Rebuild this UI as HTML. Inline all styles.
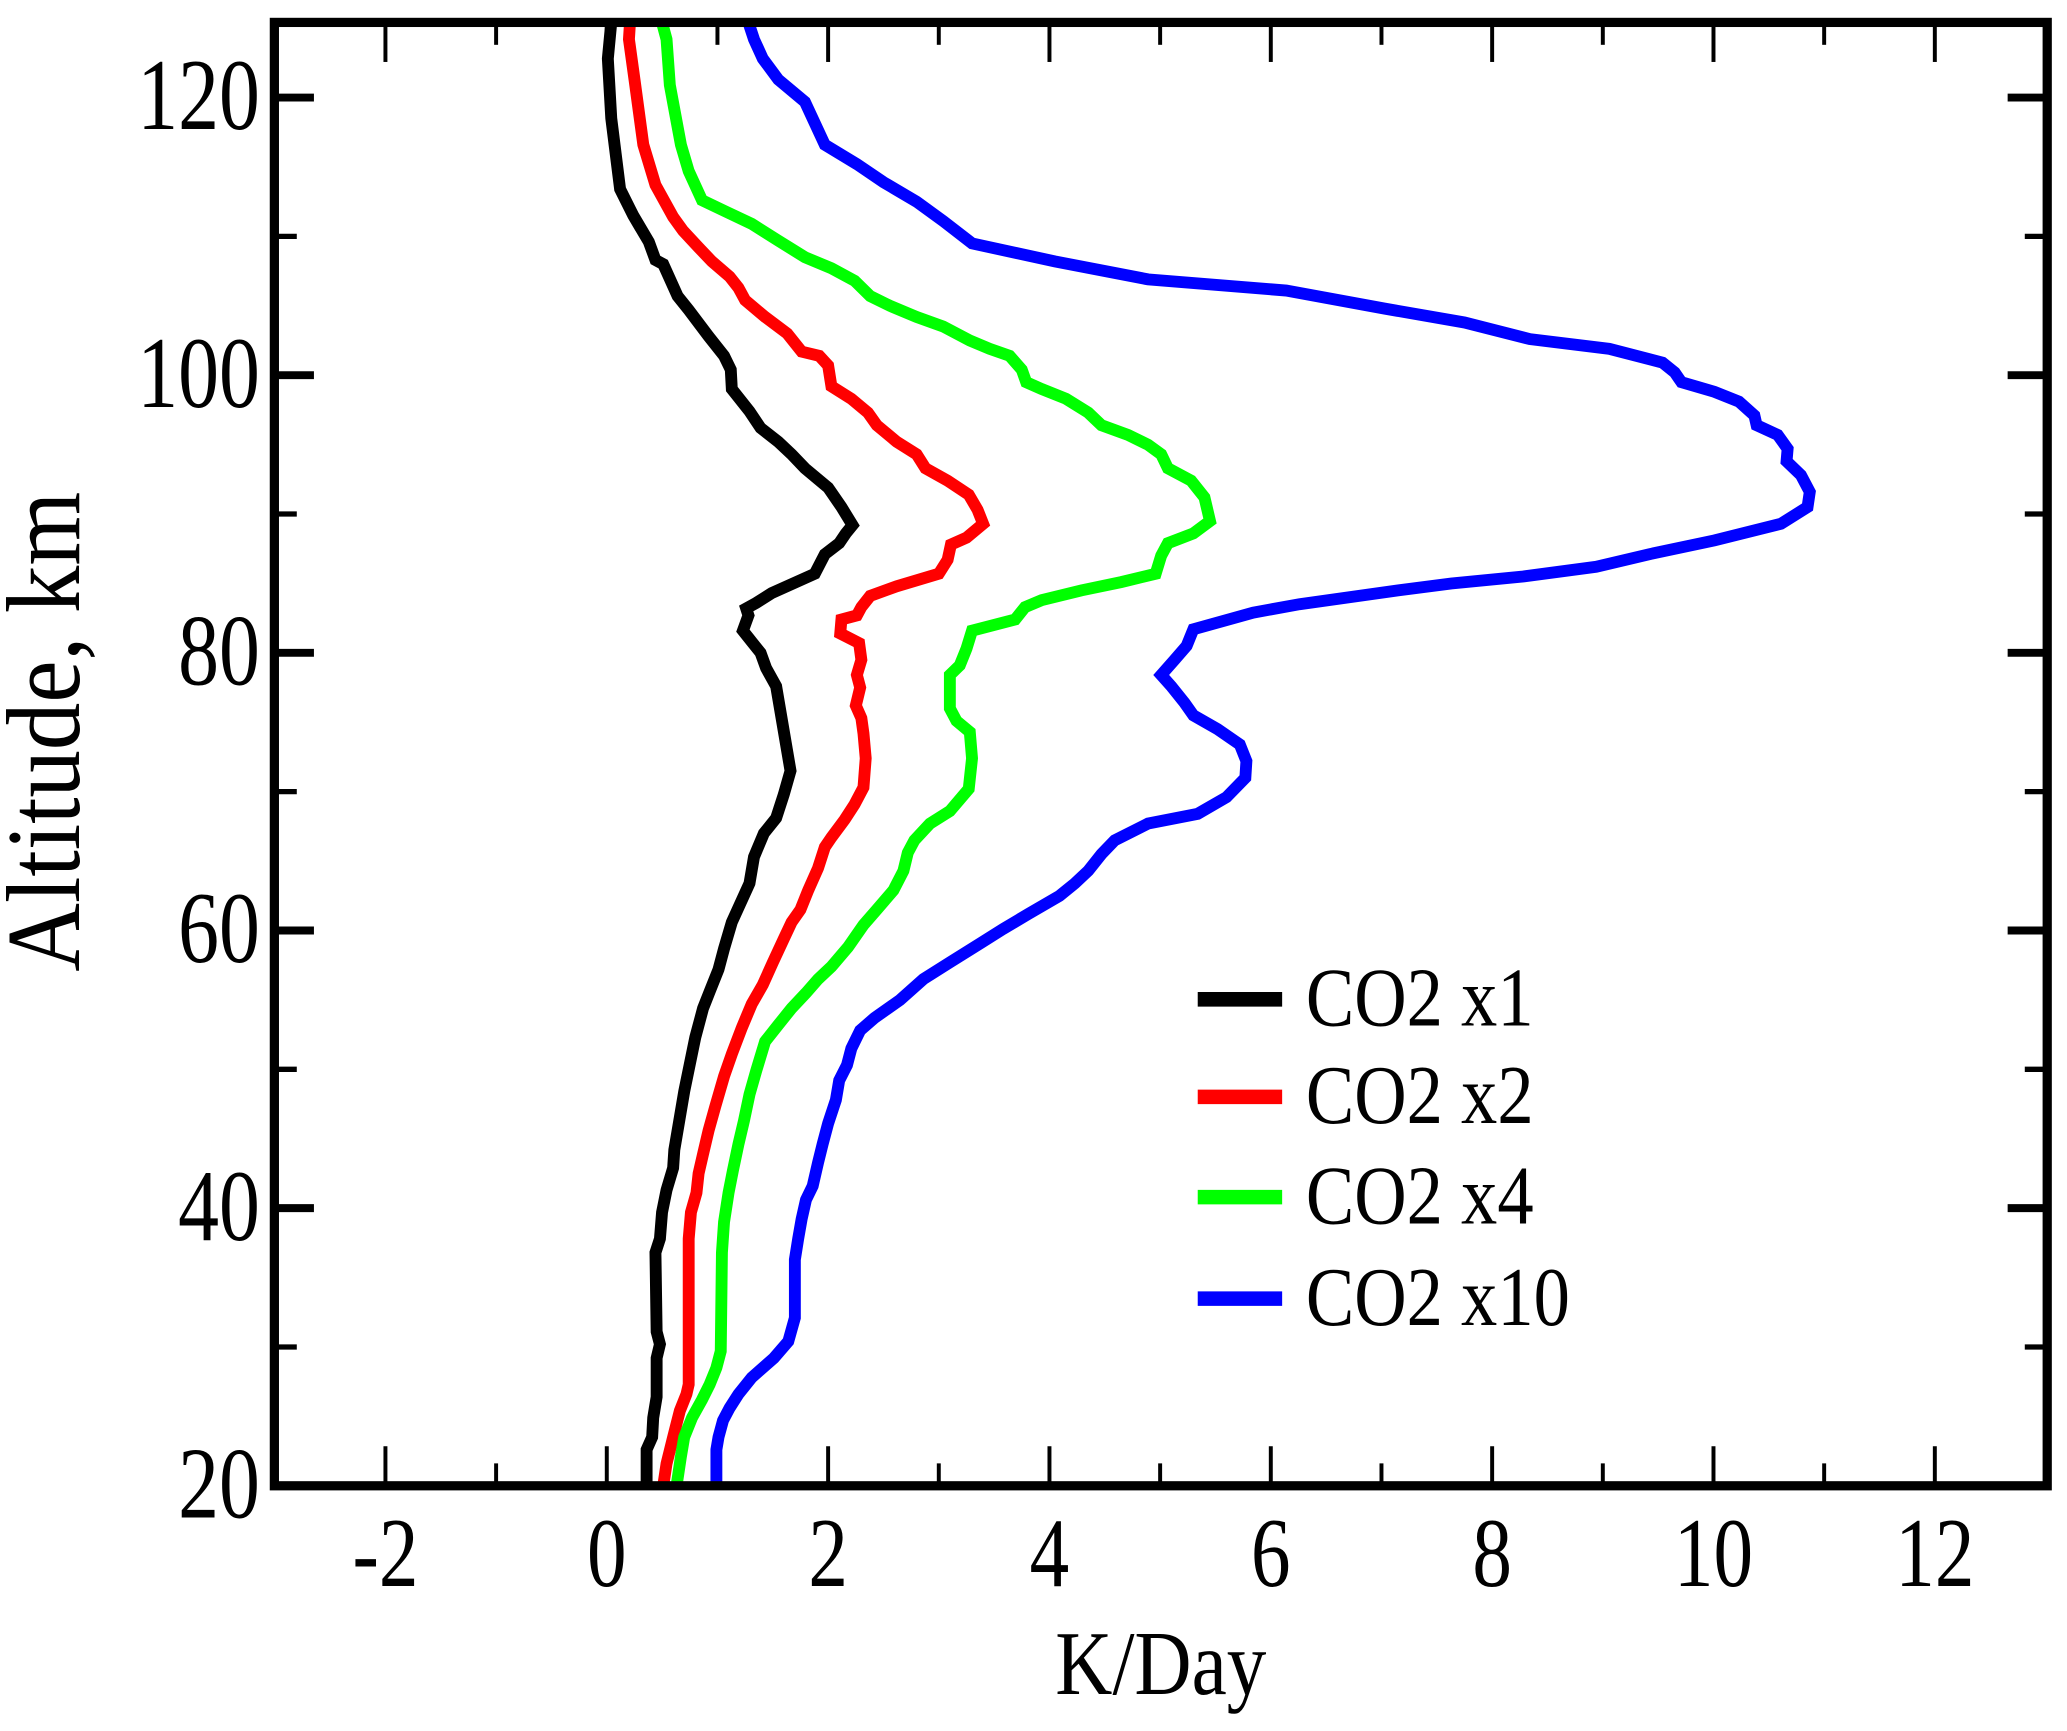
<!DOCTYPE html>
<html><head><meta charset="utf-8"><style>
html,body{margin:0;padding:0;background:#fff;}
svg{display:block;}
text{font-family:"Liberation Serif",serif;fill:#000;}
</style></head><body>
<svg id="chart" width="2067" height="1731" viewBox="0 0 1567 1313" preserveAspectRatio="none" xmlns="http://www.w3.org/2000/svg">
<g id="axes"></g>
<g id="series"></g>
<rect x="208" y="17" width="1344" height="1110" fill="none" stroke="#000" stroke-width="7"/>
<text transform="translate(880,1285) scale(1,1.15)" font-size="60" text-anchor="middle">K/Day</text>
<text transform="translate(60,555) rotate(-90) scale(1,1.1)" font-size="72" text-anchor="middle">Altitude, km</text>
<g id="legend"></g>
</svg>
<script>
const xTicks = [-2,0,2,4,6,8,10,12];
const yTicks = [20,40,60,80,100,120];
const seriesNames = ["CO2 x1","CO2 x2","CO2 x4","CO2 x10"];
const seriesColors = ["#000000","#ff0000","#00ff00","#0000ff"];
const altX1 = [125.4,122.8,118.5,113.4,111.5,109.6,108.3,108.0,105.7,104.7,102.8,101.4,100.4,99.0,97.4,96.2,95.2,94.3,93.3,91.9,90.5,89.2,88.6,87.9,87.1,85.7,84.3,83.6,83.2,82.7,81.6,80.8,80.0,78.9,77.6,71.5,69.8,68.1,67.0,65.3,63.4,60.6,58.7,57.2,55.6,54.4,52.3,48.4,44.2,42.9,41.3,39.7,37.8,36.8,31.1,30.2,29.2,26.4,24.9,23.5,22.6,20];
const valX1 = [0.04,0.01,0.04,0.12,0.24,0.38,0.44,0.51,0.64,0.74,0.92,1.06,1.12,1.13,1.29,1.39,1.55,1.67,1.79,2.00,2.12,2.22,2.16,2.10,1.97,1.88,1.49,1.35,1.26,1.28,1.23,1.31,1.39,1.44,1.53,1.66,1.60,1.53,1.42,1.33,1.29,1.13,1.06,1.01,0.93,0.87,0.80,0.70,0.61,0.60,0.54,0.50,0.48,0.44,0.45,0.48,0.45,0.45,0.42,0.41,0.36,0.36];
const altX2 = [125.4,124.2,121.3,116.6,113.7,111.4,110.4,109.2,108.2,107.1,106.3,105.4,104.2,103.0,101.7,101.4,100.7,99.2,98.3,97.3,96.4,95.2,94.3,93.3,92.4,91.4,90.3,89.3,88.3,87.8,86.7,85.7,84.8,84.1,83.3,82.7,82.4,81.4,80.7,79.5,78.4,77.5,76.2,75.3,74.2,72.4,70.3,69.1,68.0,66.7,66.0,64.5,62.9,61.5,60.6,59.4,57.7,56.1,54.7,53.0,51.1,49.5,47.3,45.6,43.9,42.5,41.1,39.7,37.8,27.3,26.6,25.4,23.5,21.6,20];
const valX2 = [0.21,0.20,0.25,0.33,0.44,0.60,0.69,0.83,0.95,1.11,1.19,1.25,1.43,1.63,1.76,1.92,2.00,2.03,2.21,2.36,2.44,2.62,2.80,2.88,3.08,3.27,3.35,3.40,3.25,3.11,3.08,3.00,2.62,2.38,2.30,2.26,2.12,2.11,2.28,2.30,2.26,2.29,2.25,2.30,2.32,2.34,2.32,2.24,2.15,2.03,1.97,1.91,1.82,1.75,1.67,1.60,1.50,1.41,1.31,1.22,1.13,1.06,0.98,0.92,0.87,0.83,0.81,0.76,0.74,0.74,0.72,0.66,0.60,0.54,0.51];
const altX4 = [125.4,124.2,120.9,116.6,114.7,112.6,111.8,110.9,109.7,108.5,107.7,106.8,105.7,105.0,104.2,103.5,102.5,101.9,101.4,100.4,99.5,99.0,98.3,97.3,96.4,95.7,95.0,94.3,93.3,92.4,91.2,89.5,88.6,87.9,87.0,85.7,85.1,84.5,83.8,83.3,82.4,81.6,80.3,79.1,78.4,76.0,75.1,74.3,72.4,70.2,68.6,67.7,66.5,65.6,64.3,62.9,61.5,60.4,58.8,57.4,56.5,55.5,54.4,53.2,52.0,49.9,48.2,46.3,44.6,42.7,41.1,39.0,36.8,29.7,28.5,27.3,26.2,24.9,23.5,22.1,20];
const valX4 = [0.50,0.54,0.57,0.67,0.74,0.86,1.07,1.31,1.55,1.79,2.03,2.24,2.38,2.56,2.80,3.04,3.28,3.46,3.64,3.75,3.79,3.93,4.15,4.35,4.47,4.71,4.89,5.01,5.07,5.28,5.40,5.45,5.30,5.07,5.01,4.96,4.65,4.29,3.93,3.78,3.69,3.30,3.25,3.19,3.10,3.10,3.16,3.28,3.30,3.27,3.10,2.92,2.78,2.72,2.68,2.59,2.44,2.32,2.18,2.03,1.91,1.80,1.67,1.55,1.43,1.35,1.29,1.24,1.19,1.14,1.10,1.06,1.04,1.03,0.99,0.93,0.86,0.77,0.70,0.67,0.63];
const altX10 = [125.4,124.2,122.8,121.3,119.7,116.6,115.2,113.9,112.5,111.1,109.5,108.2,106.9,106.1,104.8,103.8,102.6,101.9,100.9,100.2,99.5,98.8,98.1,97.1,96.4,95.7,94.7,93.8,92.8,91.6,90.5,89.3,88.1,87.1,86.2,85.5,85.0,84.5,83.5,82.9,81.7,80.5,79.5,78.4,77.6,76.4,75.5,74.5,73.4,72.2,71.0,69.6,68.4,67.7,66.5,65.5,64.3,63.4,62.5,61.2,60.1,59.1,57.7,56.5,55.0,53.7,52.8,51.5,50.3,49.2,47.8,46.1,44.6,43.3,41.6,40.6,39.2,37.8,36.3,32.1,30.4,29.2,27.8,26.6,25.6,24.7,23.5,22.6,19.7];
const valX10 = [1.28,1.33,1.41,1.55,1.79,1.97,2.26,2.50,2.80,3.04,3.30,4.05,4.89,6.14,7.03,7.75,8.34,9.06,9.54,9.65,9.71,10.01,10.23,10.37,10.39,10.58,10.67,10.66,10.79,10.87,10.85,10.61,10.01,9.42,8.94,8.28,7.63,7.15,6.26,5.84,5.30,5.24,5.13,5.01,5.10,5.22,5.30,5.52,5.72,5.78,5.77,5.60,5.34,4.89,4.59,4.47,4.35,4.23,4.09,3.81,3.58,3.38,3.10,2.86,2.65,2.42,2.29,2.21,2.17,2.10,2.07,2.00,1.95,1.91,1.86,1.80,1.76,1.73,1.70,1.70,1.64,1.51,1.31,1.19,1.11,1.05,1.01,0.99,0.99];

const NS="http://www.w3.org/2000/svg";
function xs(v){return 460+83.9*v;}
function ys(a){return 1127-10.53*(a-20);}
function mk(tag,attrs,parent){const e=document.createElementNS(NS,tag);for(const k in attrs)e.setAttribute(k,attrs[k]);parent.appendChild(e);return e;}
const axes=document.getElementById('axes');
const serG=document.getElementById('series');
const leg=document.getElementById('legend');
for(let v=-3;v<=13;v++){
  const major=(v%2===0);
  const len=major?30:17;
  const x=xs(v);
  const t1=mk('line',{x1:x,x2:x,y1:1127,y2:1127-len,stroke:'#000','stroke-width':3},axes);
  
  
  const t2=mk('line',{x1:x,x2:x,y1:17,y2:17+len,stroke:'#000','stroke-width':3},axes);
  
  
}
xTicks.forEach(v=>{
  const t=mk('text',{transform:'translate('+xs(v)+',1203) scale(1,1.25)','font-size':60,'text-anchor':'middle'},axes);
  t.textContent=String(v);
  
  
});
for(let a=30;a<=120;a+=10){
  const major=(a%20===0);
  const len=major?30:17;
  const y=ys(a);
  const t1=mk('line',{x1:208,x2:208+len,y1:y,y2:y,stroke:'#000','stroke-width':major?6:4},axes);
  
  
  const t2=mk('line',{x1:1552,x2:1552-len,y1:y,y2:y,stroke:'#000','stroke-width':major?6:4},axes);
  
  
}
yTicks.forEach(a=>{
  const t=mk('text',{transform:'translate(197,'+(ys(a)+24)+') scale(1,1.25)','font-size':62,'text-anchor':'end'},axes);
  t.textContent=String(a);
  
  
});
const allAlt=[altX1,altX2,altX4,altX10];
const allVal=[valX1,valX2,valX4,valX10];
allAlt.forEach((alts,i)=>{
  const vals=allVal[i];
  const pts=alts.map((a,j)=>xs(vals[j]).toFixed(1)+','+ys(a).toFixed(1)).join(' ');
  const p=mk('polyline',{points:pts,fill:'none',stroke:seriesColors[i],'stroke-width':9,'stroke-linejoin':'miter','stroke-miterlimit':2},serG);
  
  
});
const legY=[758,832,908,985];
seriesNames.forEach((n,i)=>{
  const l=mk('line',{x1:908,x2:972,y1:legY[i],y2:legY[i],stroke:seriesColors[i],'stroke-width':11},leg);
  
  
  const t=mk('text',{transform:'translate(990,'+(legY[i]+20)+') scale(1,1.15)','font-size':55},leg);
  t.textContent=n;
  
  
});
</script>
</body></html>
